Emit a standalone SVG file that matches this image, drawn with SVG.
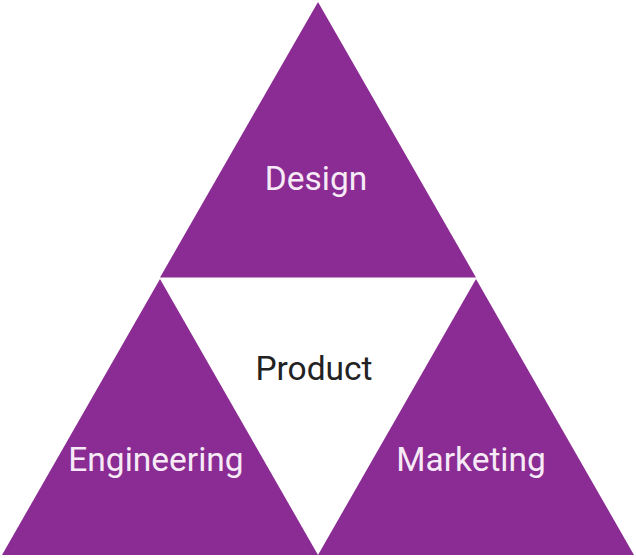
<svg xmlns="http://www.w3.org/2000/svg" width="636" height="558" viewBox="0 0 636 558">
<style>
.tri{fill:#8a2c93}
.lbl{font-family:Roboto,"Liberation Sans",sans-serif;font-size:33.5px;text-anchor:middle}
.w{fill:#f6eaf6}
.d{fill:#222222}
</style>
<rect width="636" height="558" fill="#ffffff"/>
<g id="design"><polygon class="tri" points="318,2 160,277.5 476,277.5"/><text class="lbl w" x="316" y="190">Design</text></g>
<g id="engineering"><polygon class="tri" points="160,279 2,555 318,555"/><text class="lbl w" x="156" y="471">Engineering</text></g>
<g id="marketing"><polygon class="tri" points="476,279 318,555 634,555"/><text class="lbl w" x="471" y="471">Marketing</text></g>
<g id="product"><text class="lbl d" x="314" y="380">Product</text></g>
<g id="connectors"/>
</svg>
